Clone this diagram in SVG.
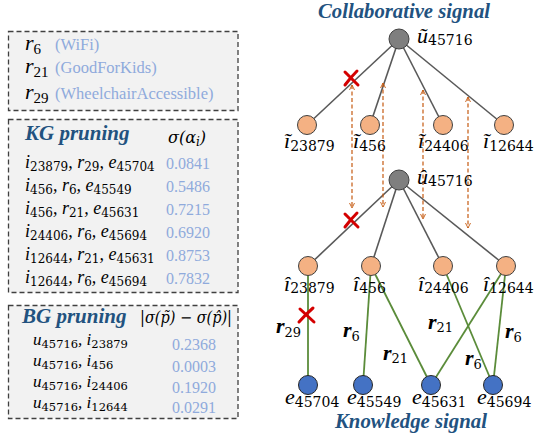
<svg xmlns="http://www.w3.org/2000/svg" width="540" height="435" viewBox="0 0 540 435">
<style>
.box{fill:#F2F2F2;stroke:#404040;stroke-width:1.3;stroke-dasharray:5,3}
.hd{font-family:"Liberation Serif",serif;font-weight:bold;font-style:italic;font-size:21px;fill:#22527F}
.mt{font-family:"Liberation Serif",serif;font-style:italic;font-size:18px;fill:#000}
.sb{font-family:"DejaVu Serif",serif;font-style:normal;font-size:12px}
.val{font-family:"Liberation Serif",serif;font-size:16px;fill:#8FAADC}
.lab{font-family:"Liberation Serif",serif;font-size:16.5px;fill:#8FAADC}
.rl{font-family:"Liberation Serif",serif;font-style:italic;font-size:22px;fill:#000}
.rs{font-family:"Liberation Serif",serif;font-style:normal;font-size:15px}
.nm{font-family:"Liberation Serif",serif;font-style:italic;font-size:22px;fill:#000}
.ns{font-family:"DejaVu Serif",serif;font-style:normal;font-size:14px}
.el{font-family:"Liberation Serif",serif;font-weight:bold;font-style:italic;font-size:22px;fill:#000}
.es{font-family:"DejaVu Serif",serif;font-weight:normal;font-style:normal;font-size:13px}
.ge{stroke:#595959;stroke-width:1.6;fill:none}
.gr{stroke:#5B8C3A;stroke-width:1.8;fill:none}
.da{stroke:#C55A11;stroke-width:1.2;stroke-dasharray:4,2.5;fill:none}
.x{stroke:#D40000;stroke-width:3;fill:none;stroke-linecap:round}
.on{fill:#F4B183;stroke:#404040;stroke-width:1}
.gn{fill:#7F7F7F;stroke:#404040;stroke-width:1}
.bn{fill:#4472C4;stroke:#262626;stroke-width:1}
</style>
<defs>
<marker id="chev" viewBox="0 0 10 10" refX="10" refY="5" markerWidth="5" markerHeight="8" markerUnits="userSpaceOnUse" orient="auto-start-reverse">
<path d="M0,0 L10,5 L0,10" fill="none" stroke="#C55A11" stroke-width="1.8"/>
</marker>
</defs>

<!-- Left panels -->
<g id="relations-box">
<rect class="box" x="8.5" y="31.5" width="229.5" height="79"/>
<text class="rl" x="25" y="50">r<tspan class="rs" dy="4">6</tspan></text>
<text class="lab" x="55" y="50">(WiFi)</text>
<text class="rl" x="25" y="73">r<tspan class="rs" dy="4">21</tspan></text>
<text class="lab" x="55" y="73">(GoodForKids)</text>
<text class="rl" x="25" y="99">r<tspan class="rs" dy="4">29</tspan></text>
<text class="lab" x="55" y="99">(WheelchairAccessible)</text>
</g>

<g id="kg-pruning-box">
<rect class="box" x="8.5" y="119.5" width="229.5" height="173"/>
<text class="hd" x="25" y="140">KG pruning</text>
<text class="mt" x="168" y="143" style="font-family:'DejaVu Serif',serif;font-size:16px">σ(α<tspan class="sb" dy="3" style="font-style:italic">i</tspan><tspan dy="-3">)</tspan></text>
<text class="mt" x="25" y="168">i<tspan class="sb" dy="3">23879</tspan><tspan dy="-3">, r</tspan><tspan class="sb" dy="3">29</tspan><tspan dy="-3">, e</tspan><tspan class="sb" dy="3">45704</tspan></text>
<text class="mt" x="25" y="191">i<tspan class="sb" dy="3">456</tspan><tspan dy="-3">, r</tspan><tspan class="sb" dy="3">6</tspan><tspan dy="-3">, e</tspan><tspan class="sb" dy="3">45549</tspan></text>
<text class="mt" x="25" y="214">i<tspan class="sb" dy="3">456</tspan><tspan dy="-3">, r</tspan><tspan class="sb" dy="3">21</tspan><tspan dy="-3">, e</tspan><tspan class="sb" dy="3">45631</tspan></text>
<text class="mt" x="25" y="237">i<tspan class="sb" dy="3">24406</tspan><tspan dy="-3">, r</tspan><tspan class="sb" dy="3">6</tspan><tspan dy="-3">, e</tspan><tspan class="sb" dy="3">45694</tspan></text>
<text class="mt" x="25" y="260">i<tspan class="sb" dy="3">12644</tspan><tspan dy="-3">, r</tspan><tspan class="sb" dy="3">21</tspan><tspan dy="-3">, e</tspan><tspan class="sb" dy="3">45631</tspan></text>
<text class="mt" x="25" y="283">i<tspan class="sb" dy="3">12644</tspan><tspan dy="-3">, r</tspan><tspan class="sb" dy="3">6</tspan><tspan dy="-3">, e</tspan><tspan class="sb" dy="3">45694</tspan></text>
<text class="val" x="166" y="169">0.0841</text>
<text class="val" x="166" y="192">0.5486</text>
<text class="val" x="166" y="215">0.7215</text>
<text class="val" x="166" y="238">0.6920</text>
<text class="val" x="166" y="261">0.8753</text>
<text class="val" x="166" y="284">0.7832</text>
</g>

<g id="bg-pruning-box">
<rect class="box" x="8.5" y="305.5" width="229.5" height="113"/>
<text class="hd" x="22" y="323">BG pruning</text>
<text class="mt" x="140" y="323" style="font-family:'DejaVu Serif',serif;font-size:16px" textLength="92" lengthAdjust="spacingAndGlyphs">|σ(p̃) − σ(p̂)|</text>
<text class="mt" x="33" y="345" style="font-size:17px">u<tspan class="sb" dy="3" style="font-size:11.5px">45716</tspan><tspan dy="-3">, i</tspan><tspan class="sb" dy="3" style="font-size:11.5px">23879</tspan></text>
<text class="mt" x="33" y="366" style="font-size:17px">u<tspan class="sb" dy="3" style="font-size:11.5px">45716</tspan><tspan dy="-3">, i</tspan><tspan class="sb" dy="3" style="font-size:11.5px">456</tspan></text>
<text class="mt" x="33" y="387" style="font-size:17px">u<tspan class="sb" dy="3" style="font-size:11.5px">45716</tspan><tspan dy="-3">, i</tspan><tspan class="sb" dy="3" style="font-size:11.5px">24406</tspan></text>
<text class="mt" x="33" y="408" style="font-size:17px">u<tspan class="sb" dy="3" style="font-size:11.5px">45716</tspan><tspan dy="-3">, i</tspan><tspan class="sb" dy="3" style="font-size:11.5px">12644</tspan></text>
<text class="val" x="172" y="350">0.2368</text>
<text class="val" x="172" y="372">0.0003</text>
<text class="val" x="172" y="393">0.1920</text>
<text class="val" x="172" y="413">0.0291</text>
</g>

<!-- Titles -->
<text class="hd" x="404" y="18" text-anchor="middle" textLength="172" lengthAdjust="spacingAndGlyphs">Collaborative signal</text>
<text class="hd" x="411" y="428" text-anchor="middle" style="font-size:20px" textLength="152" lengthAdjust="spacingAndGlyphs">Knowledge signal</text>

<!-- Connectors -->
<g id="connectors">
<line class="ge" x1="399" y1="39" x2="307" y2="125"/>
<line class="ge" x1="399" y1="39" x2="370" y2="125"/>
<line class="ge" x1="399" y1="39" x2="443" y2="125"/>
<line class="ge" x1="399" y1="39" x2="504" y2="125"/>
<line class="ge" x1="399" y1="180" x2="308" y2="266"/>
<line class="ge" x1="399" y1="180" x2="371" y2="266"/>
<line class="ge" x1="399" y1="180" x2="443" y2="266"/>
<line class="ge" x1="399" y1="180" x2="506" y2="266"/>
<line class="gr" x1="308" y1="266" x2="308" y2="385"/>
<line class="gr" x1="371" y1="266" x2="363" y2="385"/>
<line class="gr" x1="371" y1="266" x2="431" y2="385"/>
<line class="gr" x1="443" y1="266" x2="493" y2="385"/>
<line class="gr" x1="506" y1="266" x2="431" y2="385"/>
<line class="gr" x1="506" y1="266" x2="493" y2="385"/>
<line class="da" x1="352" y1="85" x2="352" y2="208" marker-start="url(#chev)" marker-end="url(#chev)"/>
<line class="da" x1="383" y1="83" x2="383" y2="207" marker-start="url(#chev)" marker-end="url(#chev)"/>
<line class="da" x1="423" y1="90" x2="423" y2="219" marker-start="url(#chev)" marker-end="url(#chev)"/>
<line class="da" x1="468" y1="97" x2="468" y2="228" marker-start="url(#chev)" marker-end="url(#chev)"/>
<path class="x" d="M345,72 L358,85 M357,71 Q351,77 345,85"/>
<path class="x" d="M345,214 L358,227 M357,213 Q351,219 345,227"/>
<path class="x" d="M300,309 L314,322 M313,308 Q306,314 299,322"/>
<text class="el" x="276" y="333">r<tspan class="es" dy="4">29</tspan></text>
<text class="el" x="343" y="337">r<tspan class="es" dy="4">6</tspan></text>
<text class="el" x="383" y="360">r<tspan class="es" dy="3">21</tspan></text>
<text class="el" x="428" y="329">r<tspan class="es" dy="3">21</tspan></text>
<text class="el" x="465" y="365">r<tspan class="es" dy="4">6</tspan></text>
<text class="el" x="505" y="338">r<tspan class="es" dy="4">6</tspan></text>
</g>

<!-- Nodes -->
<g id="u-tilde"><circle class="gn" cx="399" cy="39" r="10"/><text class="nm" x="417" y="43">ũ<tspan class="ns" dy="2">45716</tspan></text></g>
<g id="i-tilde-23879"><circle class="on" cx="307" cy="125" r="9.5"/><text class="nm" x="284" y="148">ĩ<tspan class="ns" dy="3">23879</tspan></text></g>
<g id="i-tilde-456"><circle class="on" cx="370" cy="125" r="9.5"/><text class="nm" x="353" y="148">ĩ<tspan class="ns" dy="3">456</tspan></text></g>
<g id="i-tilde-24406"><circle class="on" cx="443" cy="125" r="9.5"/><text class="nm" x="418" y="148">ĩ<tspan class="ns" dy="3">24406</tspan></text></g>
<g id="i-tilde-12644"><circle class="on" cx="504" cy="125" r="9.5"/><text class="nm" x="483" y="148">ĩ<tspan class="ns" dy="3">12644</tspan></text></g>

<g id="u-hat"><circle class="gn" cx="399" cy="180" r="10"/><text class="nm" x="417" y="184">û<tspan class="ns" dy="2">45716</tspan></text></g>
<g id="i-hat-23879"><circle class="on" cx="308" cy="266" r="9.5"/><text class="nm" x="284" y="291">î<tspan class="ns" dy="2">23879</tspan></text></g>
<g id="i-hat-456"><circle class="on" cx="371" cy="266" r="9.5"/><text class="nm" x="353" y="291">î<tspan class="ns" dy="2">456</tspan></text></g>
<g id="i-hat-24406"><circle class="on" cx="443" cy="266" r="9.5"/><text class="nm" x="418" y="291">î<tspan class="ns" dy="2">24406</tspan></text></g>
<g id="i-hat-12644"><circle class="on" cx="506" cy="266" r="9.5"/><text class="nm" x="483" y="291">î<tspan class="ns" dy="2">12644</tspan></text></g>

<g id="e-45704"><circle class="bn" cx="308" cy="385" r="9.5"/><text class="nm" x="285" y="404">e<tspan class="ns" dy="3">45704</tspan></text></g>
<g id="e-45549"><circle class="bn" cx="363" cy="385" r="9.5"/><text class="nm" x="347" y="404">e<tspan class="ns" dy="3">45549</tspan></text></g>
<g id="e-45631"><circle class="bn" cx="431" cy="385" r="9.5"/><text class="nm" x="412" y="404">e<tspan class="ns" dy="3">45631</tspan></text></g>
<g id="e-45694"><circle class="bn" cx="493" cy="385" r="9.5"/><text class="nm" x="477" y="404">e<tspan class="ns" dy="3">45694</tspan></text></g>
</svg>
